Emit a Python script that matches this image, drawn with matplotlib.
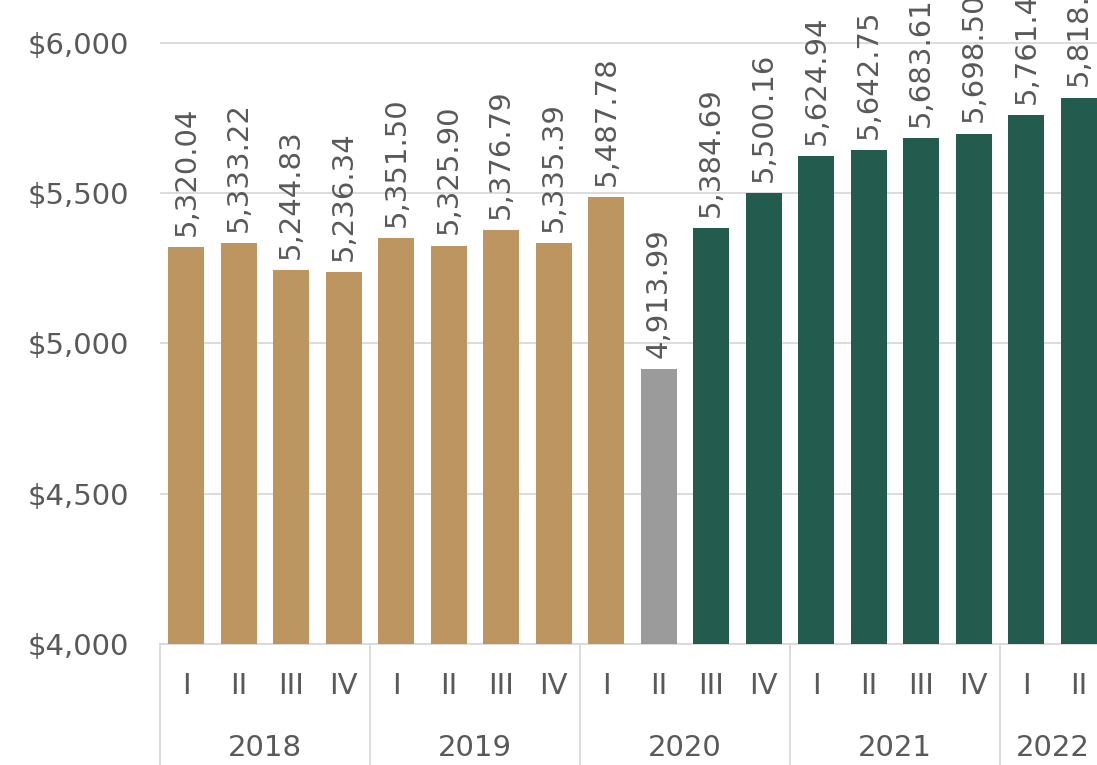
import matplotlib.pyplot as plt
import matplotlib.transforms as mtransforms

# quarterly values
years = ['2018', '2019', '2020', '2021', '2022']
quarters = ['I', 'II', 'III', 'IV'] * 4 + ['I', 'II']
values = [5320.04, 5333.22, 5244.83, 5236.34,
          5351.50, 5325.90, 5376.79, 5335.39,
          5487.78, 4913.99, 5384.69, 5500.16,
          5624.94, 5642.75, 5683.61, 5698.50,
          5761.40, 5818.30]
year_sizes = [4, 4, 4, 4, 2]

gold = '#BC9560'
grey = '#9B9B9C'
green = '#235B4E'
text_col = '#595959'
line_col = '#D9D9D9'

colors = [gold] * 9 + [grey] + [green] * 8

plt.rcParams['font.family'] = ['DejaVu Sans']

fig = plt.figure(figsize=(10.97, 7.65), dpi=100)
ax = fig.add_axes([160 / 1097, 121 / 765, 945 / 1097, 644 / 765])

x = list(range(len(values)))
bars = ax.bar(x, values, width=0.68, color=colors, zorder=3)

ax.set_xlim(-0.5, len(values) - 0.5)
ax.set_ylim(4000, 6143)
ax.set_yticks([4000, 4500, 5000, 5500, 6000])
ax.set_yticklabels(['$4,000', '$4,500', '$5,000', '$5,500', '$6,000'])
ax.tick_params(axis='y', length=0, pad=22, labelsize=21, labelcolor=text_col)
ax.grid(axis='y', color=line_col, linewidth=1.3, zorder=0)

for s in ['top', 'right', 'left']:
    ax.spines[s].set_visible(False)
ax.spines['bottom'].set_color(line_col)
ax.spines['bottom'].set_linewidth(1.3)

ax.set_xticks(x)
ax.set_xticklabels(quarters)
ax.tick_params(axis='x', length=0, pad=20, labelsize=21, labelcolor=text_col)

# value labels
for b, v in zip(bars, values):
    ax.annotate(f'{v:,.2f}', (b.get_x() + b.get_width() / 2, v),
                xytext=(0, 8), textcoords='offset points',
                rotation=90, ha='center', va='bottom',
                fontsize=21, color=text_col, zorder=4)

# year groups
trans = mtransforms.blended_transform_factory(ax.transData, ax.transAxes)
start = 0
for yr, n in zip(years, year_sizes):
    ax.plot([start - 0.5, start - 0.5], [0, -0.2], transform=trans,
            color=line_col, linewidth=1.3, clip_on=False)
    ax.text(start + (n - 1) / 2, -0.1615, yr, transform=trans,
            ha='center', va='center', fontsize=21, color=text_col)
    start += n
ax.plot([start - 0.5, start - 0.5], [0, -0.2], transform=trans,
        color=line_col, linewidth=1.3, clip_on=False)

fig.savefig('out.png', dpi=100)
